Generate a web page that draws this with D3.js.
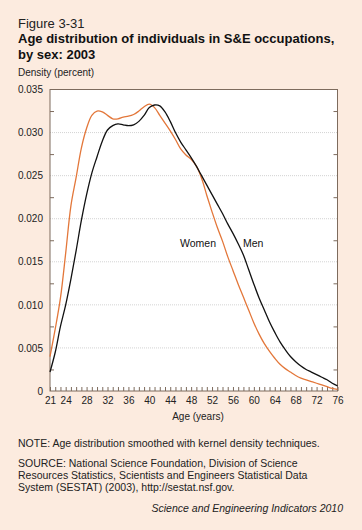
<!DOCTYPE html>
<html>
<head>
<meta charset="utf-8">
<script src="https://d3js.org/d3.v7.min.js"></script>
<style>
  body { margin: 0; background: #fcebdf; }
  svg { display: block; font-family: "Liberation Sans", Arial, sans-serif; }
</style>
</head>
<body>
<svg width="362" height="530"></svg>
<script>
"use strict";

// ages 21..76
var ages = d3.range(21, 77);

var women = [0.0040, 0.0072, 0.0108, 0.0160, 0.0215, 0.0248, 0.0282, 0.0305, 0.0320, 0.0325,
             0.0324, 0.0320, 0.0316, 0.0316, 0.0318, 0.0319, 0.0321, 0.0325, 0.0330, 0.0333,
             0.0329, 0.0320, 0.0311, 0.0302, 0.0292, 0.0281, 0.0274, 0.0269, 0.0261, 0.0247,
             0.0227, 0.0208, 0.0190, 0.0174, 0.0156, 0.0140, 0.0124, 0.0109, 0.0094, 0.0079,
             0.0066, 0.0055, 0.0046, 0.0038, 0.0031, 0.0026, 0.0022, 0.0018, 0.0015, 0.0013,
             0.0011, 0.0009, 0.0007, 0.0005, 0.0003, 0.0002];

var men = [0.0022, 0.0045, 0.0075, 0.0100, 0.0130, 0.0163, 0.0198, 0.0228, 0.0253, 0.0272,
           0.0290, 0.0303, 0.0308, 0.0310, 0.0309, 0.0308, 0.0309, 0.0313, 0.0320, 0.0329,
           0.0332, 0.0331, 0.0324, 0.0313, 0.0300, 0.0289, 0.0280, 0.0271, 0.0261, 0.0250,
           0.0239, 0.0228, 0.0217, 0.0206, 0.0194, 0.0183, 0.0171, 0.0158, 0.0141, 0.0124,
           0.0108, 0.0094, 0.0080, 0.0068, 0.0057, 0.0048, 0.0040, 0.0034, 0.0029, 0.0025,
           0.0022, 0.0019, 0.0016, 0.0013, 0.0009, 0.0006];

var xTickLabels = [21, 24, 28, 32, 36, 40, 44, 48, 52, 56, 60, 64, 68, 72, 76];
var yTickValues = [0, 0.005, 0.010, 0.015, 0.020, 0.025, 0.030, 0.035];
var yMinorValues = [0.0025, 0.0075, 0.0125, 0.0175, 0.0225, 0.0275, 0.0325];

var svg = d3.select("svg");
var pLeft = 50, pRight = 337.5, pTop = 89.5, pBottom = 391;

var x = d3.scaleLinear().domain([21, 76]).range([pLeft, pRight]);
var y = d3.scaleLinear().domain([0, 0.035]).range([pBottom, pTop]);

var frame = "#7d6b5d";

// titles
svg.append("text").attr("x", 18).attr("y", 28).attr("font-size", 13).attr("fill", "#222").text("Figure 3-31");
svg.append("text").attr("x", 18).attr("y", 43).attr("font-size", 13).attr("font-weight", "bold").attr("fill", "#111")
    .text("Age distribution of individuals in S&E occupations,");
svg.append("text").attr("x", 18).attr("y", 59).attr("font-size", 13).attr("font-weight", "bold").attr("fill", "#111")
    .text("by sex: 2003");
svg.append("text").attr("x", 18).attr("y", 76).attr("font-size", 10).attr("fill", "#222").text("Density (percent)");

// plot background
svg.append("rect").attr("x", pLeft).attr("y", pTop).attr("width", pRight - pLeft).attr("height", pBottom - pTop).attr("fill", "#fff");

// gridlines
svg.append("g").selectAll("line").data(yTickValues.filter(d => d > 0 && d < 0.035)).enter().append("line")
    .attr("x1", pLeft).attr("x2", pRight)
    .attr("y1", d => y(d)).attr("y2", d => y(d))
    .attr("stroke", "#c8c8c8").attr("stroke-width", 0.8).attr("stroke-dasharray", "1,1");

// y axis (left)
var yAxis = svg.append("g").attr("transform", "translate(" + pLeft + ",0)")
    .call(d3.axisLeft(y).tickValues(yTickValues).tickSize(0).tickPadding(7)
        .tickFormat(d => d === 0 ? "0" : d3.format(".3f")(d)));
yAxis.select(".domain").remove();
yAxis.selectAll("text").attr("font-size", 10).attr("fill", "#222").attr("font-family", "Liberation Sans, Arial, sans-serif");

// minor ticks left & right (inward)
svg.append("g").attr("transform", "translate(" + pLeft + ",0)")
    .call(d3.axisRight(y).tickValues(yMinorValues).tickSize(4).tickFormat(""))
    .call(g => g.select(".domain").remove())
    .selectAll("line").attr("stroke", frame);
svg.append("g").attr("transform", "translate(" + pRight + ",0)")
    .call(d3.axisLeft(y).tickValues(yMinorValues).tickSize(4).tickFormat(""))
    .call(g => g.select(".domain").remove())
    .selectAll("line").attr("stroke", frame);

// x axis: minor ticks each year, labelled ticks
svg.append("g").attr("transform", "translate(0," + pBottom + ")")
    .call(d3.axisTop(x).tickValues(ages).tickSize(4).tickFormat(""))
    .call(g => g.select(".domain").remove())
    .selectAll("line").attr("stroke", frame);
var xAxis = svg.append("g").attr("transform", "translate(0," + pBottom + ")")
    .call(d3.axisBottom(x).tickValues(xTickLabels).tickSize(0).tickPadding(6));
xAxis.select(".domain").remove();
xAxis.selectAll("text").attr("font-size", 10).attr("fill", "#222").attr("font-family", "Liberation Sans, Arial, sans-serif");

// frame
svg.append("rect").attr("x", pLeft).attr("y", pTop).attr("width", pRight - pLeft).attr("height", pBottom - pTop)
    .attr("fill", "none").attr("stroke", frame).attr("stroke-width", 1);

svg.append("text").attr("x", 198).attr("y", 420).attr("text-anchor", "middle").attr("font-size", 10).attr("fill", "#222")
    .text("Age (years)");

// lines
var line = d3.line().x((d, i) => x(ages[i])).y(d => y(d)).curve(d3.curveCatmullRom.alpha(0.5));
svg.append("path").datum(women).attr("d", line).attr("fill", "none").attr("stroke", "#e3773a").attr("stroke-width", 1.3);
svg.append("path").datum(men).attr("d", line).attr("fill", "none").attr("stroke", "#111").attr("stroke-width", 1.3);

svg.append("text").attr("x", 180).attr("y", 247).attr("font-size", 10.5).attr("fill", "#111").text("Women");
svg.append("text").attr("x", 243).attr("y", 247).attr("font-size", 10.5).attr("fill", "#111").text("Men");

// notes
var notes = [
    "NOTE: Age distribution smoothed with kernel density techniques.",
    "SOURCE: National Science Foundation, Division of Science",
    "Resources Statistics, Scientists and Engineers Statistical Data",
    "System (SESTAT) (2003), http://sestat.nsf.gov."
];
var noteY = [447, 467, 479, 491];
svg.append("g").selectAll("text").data(notes).enter().append("text")
    .attr("x", 18).attr("y", (d, i) => noteY[i]).attr("font-size", 10.5).attr("fill", "#222").text(d => d);
svg.append("text").attr("x", 343).attr("y", 512).attr("text-anchor", "end").attr("font-size", 10.5)
    .attr("font-style", "italic").attr("fill", "#222").text("Science and Engineering Indicators 2010");
</script>
</body>
</html>
